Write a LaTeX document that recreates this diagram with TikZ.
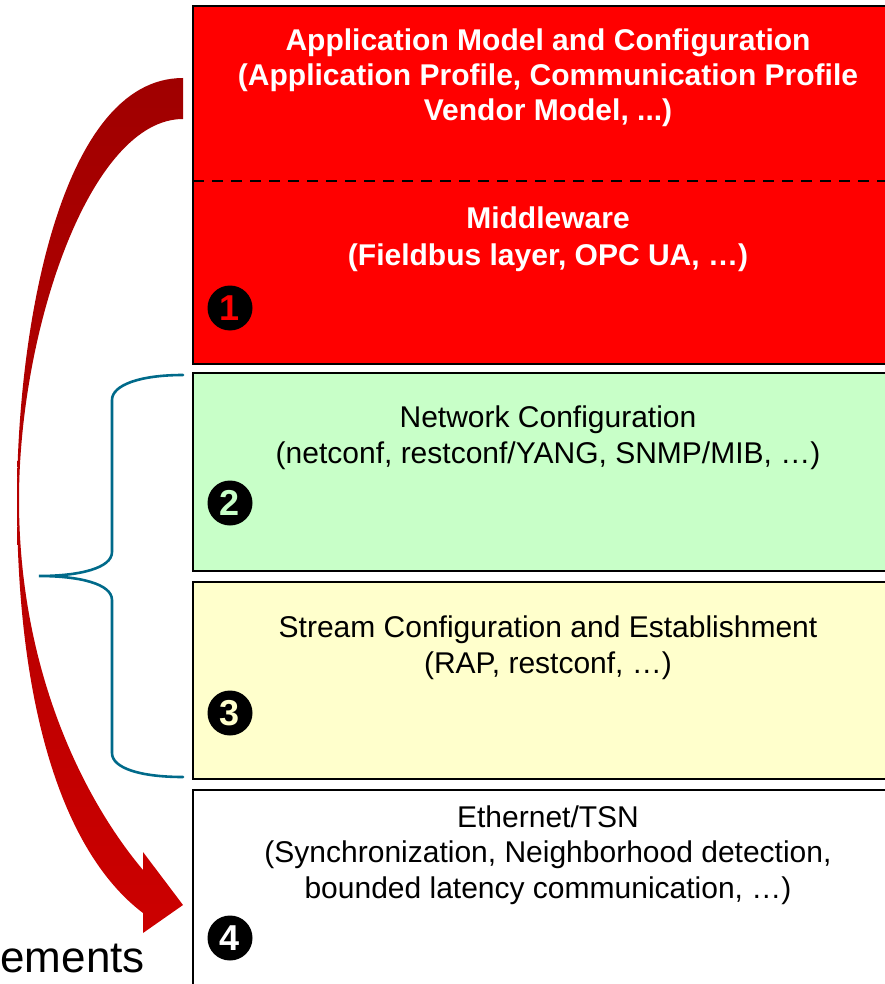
\documentclass[tikz,border=0pt]{standalone}
\usepackage{fontspec}
\setmainfont{Liberation Sans}
\definecolor{arrtop}{HTML}{A00000}
\definecolor{arrbot}{HTML}{CC0000}
\definecolor{bracecol}{HTML}{006A8A}
\definecolor{boxgreen}{HTML}{C8FFC8}
\definecolor{boxyellow}{HTML}{FFFFCC}
\begin{document}
\begin{tikzpicture}[x=1pt,y=-1pt,
  layerbox/.style={draw=black,line width=2pt},
  boldtxt/.style={text=white,font=\fontsize{30}{36}\selectfont\bfseries,inner sep=0pt,anchor=base},
  plaintxt/.style={text=black,font=\fontsize{30}{36}\selectfont,inner sep=0pt,anchor=base},
  numcirc/.style={circle,fill=black,minimum size=45pt,inner sep=0pt,font=\fontsize{36}{36}\selectfont\bfseries}]
\useasboundingbox (0,0) rectangle (884,984);
% layer boxes
\fill[red] (193,6) rectangle (900,364);
\draw[layerbox] (900,6) -- (193,6) -- (193,364) -- (900,364);
\draw[black,line width=1.5pt,dash pattern=on 11pt off 8pt] (193,181) -- (900,181);
\fill[boxgreen] (193,373) rectangle (900,571);
\draw[layerbox] (900,373) -- (193,373) -- (193,571) -- (900,571);
\fill[boxyellow] (193,582) rectangle (900,779);
\draw[layerbox] (900,582) -- (193,582) -- (193,779) -- (900,779);
\fill[white] (193,790) rectangle (900,1000);
\draw[layerbox] (900,790) -- (193,790) -- (193,1000);
% texts
\node[boldtxt] (t1a) at (548,51) {Application Model and Configuration};
\node[boldtxt] (t1b) at (548,86) {(Application Profile, Communication Profile};
\node[boldtxt] (t1c) at (548,121) {Vendor Model, ...)};
\node[boldtxt] (t1d) at (548,229) {Middleware};
\node[boldtxt] (t1e) at (548,265) {(Fieldbus layer, OPC UA, …)};
\node[plaintxt] (t2a) at (548,427) {Network Configuration};
\node[plaintxt] (t2b) at (548,463) {(netconf, restconf/YANG, SNMP/MIB, …)};
\node[plaintxt] (t3a) at (548,637) {Stream Configuration and Establishment};
\node[plaintxt] (t3b) at (548,673) {(RAP, restconf, …)};
\node[plaintxt] (t4a) at (548,827) {Ethernet/TSN};
\node[plaintxt] (t4b) at (548,862) {(Synchronization, Neighborhood detection,};
\node[plaintxt] (t4c) at (548,898) {bounded latency communication, …)};
% numbered circles
\node[numcirc,text=red] (n1) at (230,308) {1};
\node[numcirc,text=boxgreen] (n2) at (230,503) {2};
\node[numcirc,text=boxyellow] (n3) at (230,713) {3};
\node[numcirc,text=white] (n4) at (230,938) {4};
% brace
\draw[bracecol,line width=2.6pt,line cap=round]
  (183,375) .. controls (140,375) and (112,385) .. (112,400) -- (112,552)
  .. controls (112,568) and (80,576) .. (39,576)
  .. controls (80,576) and (112,584) .. (112,600) -- (112,753)
  .. controls (112,768) and (140,777) .. (183,777);
% curved arrow
\shade[top color=arrtop,bottom color=arrbot]
  (183,78) .. controls (60,78) and (17,330) .. (17,500)
  .. controls (17,700) and (60,850) .. (143,913)
  -- (143,933) -- (183,905) -- (143,852) -- (143,870)
  .. controls (80,795) and (19,665) .. (19,500)
  .. controls (19,330) and (90,119) .. (183,119) -- cycle;
% clipped label
\node[font=\fontsize{44}{44}\selectfont,inner sep=0pt,anchor=base east] (req) at (145,972) {ements};
\end{tikzpicture}
\end{document}
